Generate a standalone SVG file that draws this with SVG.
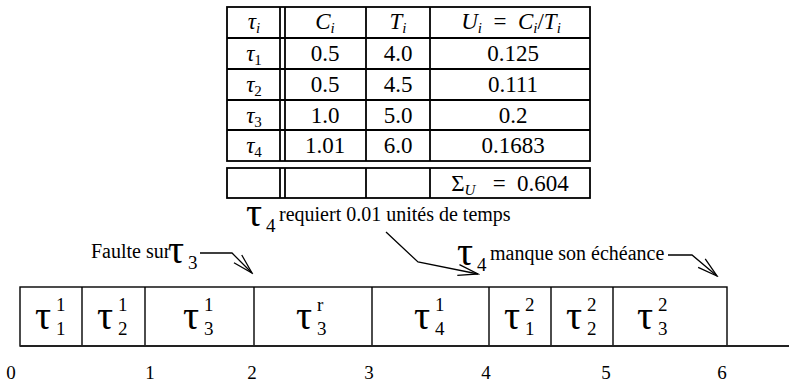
<svg xmlns="http://www.w3.org/2000/svg" width="789" height="385" viewBox="0 0 789 385">
<style>
.tl{stroke:#000;stroke-width:1.8;fill:none}
.bx{stroke:#000;stroke-width:1.4;fill:#fff}
.tc{font-family:"Liberation Serif","DejaVu Serif",serif;font-size:23px;fill:#000;text-anchor:middle}
.it{font-style:italic}
.sb{font-size:15px}
.an{font-family:"Liberation Serif","Times New Roman",serif;font-size:20px;fill:#000}
.tau{font-family:"Liberation Serif","Times New Roman",serif;font-size:40px;fill:#000}
.ix{font-family:"Liberation Serif","Times New Roman",serif;font-size:19px;fill:#000}
.ax{font-family:"Liberation Serif","Times New Roman",serif;font-size:19px;fill:#000;text-anchor:middle}
.cn{stroke:#000;stroke-width:1.3;fill:none}
</style>
<defs>
<marker id="ah" viewBox="-24 -10 26 20" markerWidth="26" markerHeight="20" refX="0" refY="0" markerUnits="userSpaceOnUse" orient="auto">
<path d="M-20,-5.5 L0,0 L-20,5.5" stroke="#000" stroke-width="1.3" fill="none"/>
</marker>
</defs>
<rect width="789" height="385" fill="#fff"/>

<g id="table">
<rect class="tl" x="227" y="7" width="363" height="154"/>
<line class="tl" x1="227" y1="38" x2="590" y2="38"/>
<line class="tl" x1="227" y1="69" x2="590" y2="69"/>
<line class="tl" x1="227" y1="100" x2="590" y2="100"/>
<line class="tl" x1="227" y1="130" x2="590" y2="130"/>
<line class="tl" x1="280" y1="7" x2="280" y2="161"/>
<line class="tl" x1="285" y1="7" x2="285" y2="161"/>
<line class="tl" x1="366" y1="7" x2="366" y2="161"/>
<line class="tl" x1="430" y1="7" x2="430" y2="161"/>
<rect class="tl" x="227" y="168" width="363" height="30"/>
<line class="tl" x1="280" y1="168" x2="280" y2="198"/>
<line class="tl" x1="285" y1="168" x2="285" y2="198"/>
<line class="tl" x1="366" y1="168" x2="366" y2="198"/>
<line class="tl" x1="430" y1="168" x2="430" y2="198"/>

<text class="tc" x="254" y="29"><tspan class="it">τ</tspan><tspan class="it sb" dy="4">i</tspan></text>
<text class="tc" x="325" y="29"><tspan class="it">C</tspan><tspan class="it sb" dy="4">i</tspan></text>
<text class="tc" x="398" y="29"><tspan class="it">T</tspan><tspan class="it sb" dy="4">i</tspan></text>
<text class="tc" x="511" y="29" xml:space="preserve"><tspan class="it">U</tspan><tspan class="it sb" dy="4">i</tspan><tspan dy="-4">  =  </tspan><tspan class="it">C</tspan><tspan class="it sb" dy="4">i</tspan><tspan dy="-4">/</tspan><tspan class="it">T</tspan><tspan class="it sb" dy="4">i</tspan></text>

<text class="tc" x="254" y="61"><tspan class="it">τ</tspan><tspan class="sb" dy="4">1</tspan></text>
<text class="tc" x="325" y="61">0.5</text>
<text class="tc" x="398" y="61">4.0</text>
<text class="tc" x="513" y="61">0.125</text>

<text class="tc" x="254" y="92"><tspan class="it">τ</tspan><tspan class="sb" dy="4">2</tspan></text>
<text class="tc" x="325" y="92">0.5</text>
<text class="tc" x="398" y="92">4.5</text>
<text class="tc" x="513" y="92">0.111</text>

<text class="tc" x="254" y="123"><tspan class="it">τ</tspan><tspan class="sb" dy="4">3</tspan></text>
<text class="tc" x="325" y="123">1.0</text>
<text class="tc" x="398" y="123">5.0</text>
<text class="tc" x="513" y="123">0.2</text>

<text class="tc" x="254" y="153"><tspan class="it">τ</tspan><tspan class="sb" dy="4">4</tspan></text>
<text class="tc" x="325" y="153">1.01</text>
<text class="tc" x="398" y="153">6.0</text>
<text class="tc" x="513" y="153">0.1683</text>

<text class="tc" x="510" y="191" xml:space="preserve">Σ<tspan class="it sb" dy="4">U</tspan><tspan dy="-4">   =  0.604</tspan></text>
</g>

<g id="note-requiert">
<text class="tau" x="246" y="226">τ</text><text class="ix" x="266" y="232">4</text>
<text class="an" x="279" y="221">requiert 0.01 unités de temps</text>
</g>
<g id="note-faulte">
<text class="an" x="91" y="258">Faulte sur</text>
<text class="tau" x="168" y="263">τ</text><text class="ix" x="188" y="269">3</text>
</g>
<g id="note-manque">
<text class="tau" x="457" y="265">τ</text><text class="ix" x="477" y="271">4</text>
<text class="an" x="490" y="260">manque son échéance</text>
</g>

<g id="schedule">
<rect class="bx" x="20" y="287" width="707" height="59"/>
<line class="bx" x1="82" y1="287" x2="82" y2="346"/>
<line class="bx" x1="145" y1="287" x2="145" y2="346"/>
<line class="bx" x1="254" y1="287" x2="254" y2="346"/>
<line class="bx" x1="372" y1="287" x2="372" y2="346"/>
<line class="bx" x1="489" y1="287" x2="489" y2="346"/>
<line class="bx" x1="551" y1="287" x2="551" y2="346"/>
<line class="bx" x1="613" y1="287" x2="613" y2="346"/>
<line x1="20" y1="346" x2="789" y2="346" stroke="#222" stroke-width="2"/>
</g>

<g id="t11"><text class="tau" x="35" y="329">τ</text><text class="ix" x="56" y="311">1</text><text class="ix" x="56" y="335">1</text></g>
<g id="t21"><text class="tau" x="97" y="329">τ</text><text class="ix" x="118" y="311">1</text><text class="ix" x="118" y="335">2</text></g>
<g id="t31"><text class="tau" x="183" y="329">τ</text><text class="ix" x="204" y="311">1</text><text class="ix" x="204" y="335">3</text></g>
<g id="t3r"><text class="tau" x="296" y="329">τ</text><text class="ix" x="317" y="311">r</text><text class="ix" x="317" y="335">3</text></g>
<g id="t41"><text class="tau" x="414" y="329">τ</text><text class="ix" x="435" y="311">1</text><text class="ix" x="435" y="335">4</text></g>
<g id="t12"><text class="tau" x="504" y="329">τ</text><text class="ix" x="525" y="311">2</text><text class="ix" x="525" y="335">1</text></g>
<g id="t22"><text class="tau" x="566" y="329">τ</text><text class="ix" x="587" y="311">2</text><text class="ix" x="587" y="335">2</text></g>
<g id="t32"><text class="tau" x="637" y="329">τ</text><text class="ix" x="658" y="311">2</text><text class="ix" x="658" y="335">3</text></g>

<g id="axis">
<text class="ax" x="11" y="379">0</text>
<text class="ax" x="150" y="379">1</text>
<text class="ax" x="252" y="379">2</text>
<text class="ax" x="369" y="379">3</text>
<text class="ax" x="486" y="379">4</text>
<text class="ax" x="606" y="379">5</text>
<text class="ax" x="722" y="379">6</text>
</g>

<g id="connectors">
<polyline class="cn" points="200,253 232,253 252,273" marker-end="url(#ah)"/>
<polyline class="cn" points="386,232 418,262 478,274" marker-end="url(#ah)"/>
<polyline class="cn" points="668,255 692,255 717,276" marker-end="url(#ah)"/>
</g>
</svg>
